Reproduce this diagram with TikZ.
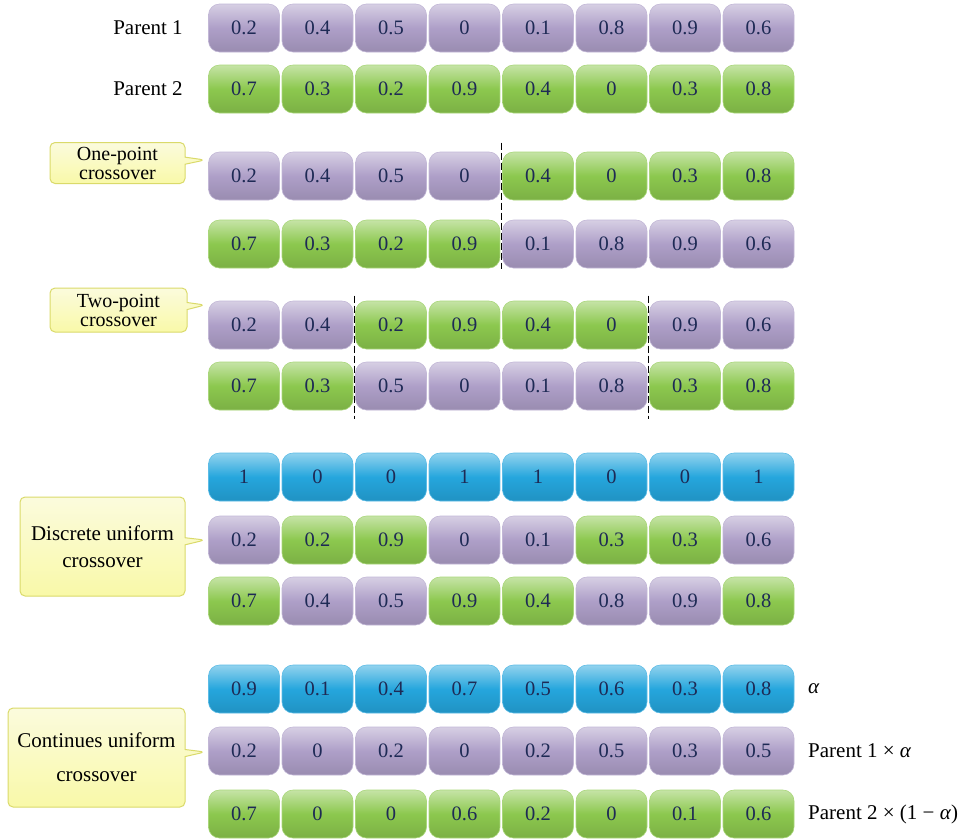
\documentclass[tikz,border=0pt]{standalone}
\usepackage{fontspec}
\setmainfont{Liberation Serif}
\usetikzlibrary{calc,shapes.callouts}
\definecolor{pa}{HTML}{AE9FC8}
\definecolor{gr}{HTML}{8CC84E}
\definecolor{bl}{HTML}{25A6DD}
\definecolor{numtext}{HTML}{1E2A55}
\definecolor{notefill}{HTML}{F8F8C6}
\definecolor{noteline}{HTML}{DADA6A}

\begin{document}
\begin{tikzpicture}[x=1pt,y=-1pt,
        gene/.style={
                rounded corners=11pt,
                minimum width=71pt,
                minimum height=48pt,
                inner sep=0pt,
                text=numtext,
                font=\fontsize{20.5}{22}\selectfont,
                draw=#1!75!white,
                line width=0.6pt,
                top color=#1!50!white,
                bottom color=#1!88!black,
                middle color=#1
            },
        lab/.style={
                inner sep=0pt,
                font=\fontsize{21}{24}\selectfont
            },
        note/.style={
                rectangle callout,
                rounded corners=5pt,
                align=center,
                inner sep=0pt,
                draw=noteline,
                line width=1pt,
                top color=notefill!60!white,
                bottom color=notefill!85!yellow,
                text=black
            },
        cut/.style={
                line width=1.1pt,
                dash pattern=on 7pt off 3pt
            }]
        \useasboundingbox (0,0) rectangle (963,839);

        % parents
        \foreach \v [count=\i] in {0.2,0.4,0.5,0,0.1,0.8,0.9,0.6}
            \node [gene=pa] (p1-\i) at (170.5+73.5*\i,28) {\v};
        \foreach \v [count=\i] in {0.7,0.3,0.2,0.9,0.4,0,0.3,0.8}
            \node [gene=gr] (p2-\i) at (170.5+73.5*\i,89) {\v};

        % one-point
        \foreach \v/\c [count=\i] in {0.2/pa,0.4/pa,0.5/pa,0/pa,0.4/gr,0/gr,0.3/gr,0.8/gr}
            \node [gene=\c] (a1-\i) at (170.5+73.5*\i,176) {\v};
        \foreach \v/\c [count=\i] in {0.7/gr,0.3/gr,0.2/gr,0.9/gr,0.1/pa,0.8/pa,0.9/pa,0.6/pa}
            \node [gene=\c] (a2-\i) at (170.5+73.5*\i,244) {\v};

        % two-point
        \foreach \v/\c [count=\i] in {0.2/pa,0.4/pa,0.2/gr,0.9/gr,0.4/gr,0/gr,0.9/pa,0.6/pa}
            \node [gene=\c] (b1-\i) at (170.5+73.5*\i,325) {\v};
        \foreach \v/\c [count=\i] in {0.7/gr,0.3/gr,0.5/pa,0/pa,0.1/pa,0.8/pa,0.3/gr,0.8/gr}
            \node [gene=\c] (b2-\i) at (170.5+73.5*\i,386) {\v};

        % discrete uniform
        \foreach \v [count=\i] in {1,0,0,1,1,0,0,1}
            \node [gene=bl] (m-\i) at (170.5+73.5*\i,477) {\v};
        \foreach \v/\c [count=\i] in {0.2/pa,0.2/gr,0.9/gr,0/pa,0.1/pa,0.3/gr,0.3/gr,0.6/pa}
            \node [gene=\c] (c1-\i) at (170.5+73.5*\i,540) {\v};
        \foreach \v/\c [count=\i] in {0.7/gr,0.4/pa,0.5/pa,0.9/gr,0.4/gr,0.8/pa,0.9/pa,0.8/gr}
            \node [gene=\c] (c2-\i) at (170.5+73.5*\i,601) {\v};

        % continues uniform
        \foreach \v [count=\i] in {0.9,0.1,0.4,0.7,0.5,0.6,0.3,0.8}
            \node [gene=bl] (al-\i) at (170.5+73.5*\i,689) {\v};
        \foreach \v [count=\i] in {0.2,0,0.2,0,0.2,0.5,0.3,0.5}
            \node [gene=pa] (d1-\i) at (170.5+73.5*\i,751) {\v};
        \foreach \v [count=\i] in {0.7,0,0,0.6,0.2,0,0.1,0.6}
            \node [gene=gr] (d2-\i) at (170.5+73.5*\i,814) {\v};

        % labels
        \node [lab] (lp1) at (148,28) {Parent 1};
        \node [lab] (lp2) at (148,89) {Parent 2};
        \node [lab, anchor=west] (lal) at (808,689) {\textit{α}};
        \node [lab, anchor=west] (ld1) at (808,751) {Parent 1 × \textit{α}};
        \node [lab, anchor=west] (ld2) at (808,814) {Parent 2 × (1 − \textit{α})};

        % callouts
        \node [note, minimum width=135pt, minimum height=41pt,
            font=\fontsize{20}{19}\selectfont,
            callout absolute pointer={(205,160)}] (n1) at (117.5,163) {One-point\\crossover};
        \node [note, minimum width=137pt, minimum height=44pt,
            font=\fontsize{20}{19}\selectfont,
            callout absolute pointer={(205,305)}] (n2) at (118.5,310) {Two-point\\crossover};
        \node [note, minimum width=165pt, minimum height=99pt,
            font=\fontsize{21}{27}\selectfont,
            callout absolute pointer={(205,540)}] (n3) at (102.5,546.5) {Discrete uniform\\crossover};
        \node [note, minimum width=177pt, minimum height=99pt,
            font=\fontsize{21}{34}\selectfont,
            callout absolute pointer={(205,752)}] (n4) at (96.5,757.5) {Continues uniform\\crossover};

        % cut points
        \draw [cut] ($(a1-4.north east)!0.5!(a1-5.north west)+(0,-9)$) -- ($(a2-4.south east)!0.5!(a2-5.south west)+(0,1)$);
        \draw [cut] ($(b1-2.north east)!0.5!(b1-3.north west)+(0,-5)$) -- ($(b2-2.south east)!0.5!(b2-3.south west)+(0,9)$);
        \draw [cut] ($(b1-6.north east)!0.5!(b1-7.north west)+(0,-5)$) -- ($(b2-6.south east)!0.5!(b2-7.south west)+(0,9)$);
    \end{tikzpicture}
\end{document}
